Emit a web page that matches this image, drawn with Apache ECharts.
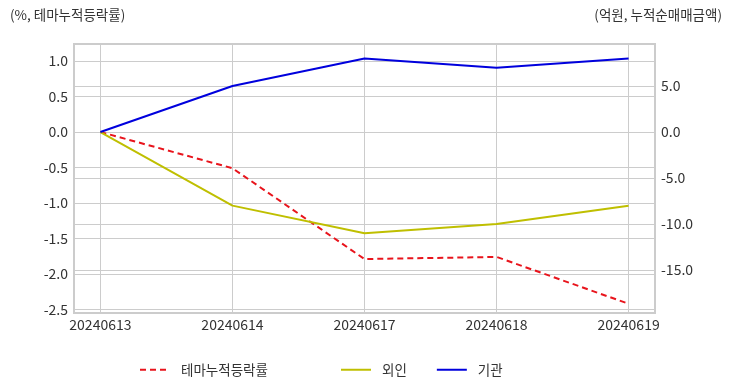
<!DOCTYPE html>
<html><head><meta charset="utf-8">
<script src="https://cdn.jsdelivr.net/npm/echarts@6/dist/echarts.min.js"></script>
<style>html,body{margin:0;padding:0;background:#fff}#c{width:732px;height:392px}</style>
</head><body><div id="c"></div>
<script>
const categories = ['20240613','20240614','20240617','20240618','20240619'];
const themeReturn = [0, -0.51, -1.79, -1.76, -2.42];
const foreign = [0, -8.0, -11.0, -10.0, -8.0];
const institution = [0, 5.0, 8.0, 7.0, 8.0];
const leftTicks = [-2.5, -2.0, -1.5, -1.0, -0.5, 0.0, 0.5, 1.0];
const rightTicks = [-15, -10, -5, 0, 5];

const FONT = '"Noto Sans CJK KR", "Noto Sans", sans-serif';
const chart = echarts.init(document.getElementById('c'));
const pairs = a => a.map((v,i)=>[i,v]);
const isTick = (list,v) => list.some(t=>Math.abs(t-v)<1e-6);
chart.setOption({
  animation:false,
  textStyle:{fontFamily:FONT},
  grid:{left:74,right:77,top:44,bottom:79,show:true,borderColor:'#cccccc',borderWidth:2,containLabel:false},
  graphic:[
    {type:'text',left:10,top:8,style:{text:'(%, 테마누적등락률)',font:'13.5px '+FONT,fill:'#333'}},
    {type:'text',right:10,top:8,style:{text:'(억원, 누적순매매금액)',font:'13.5px '+FONT,fill:'#333'}}
  ],
  legend:[
    {data:['테마누적등락률'],left:134,top:358,itemWidth:26,itemHeight:10,itemGap:20,itemStyle:{opacity:0},
      textStyle:{fontSize:13.5,color:'#333',fontFamily:FONT,padding:[0,0,0,10]}},
    {data:['외인','기관'],left:335,top:358,itemWidth:30,itemHeight:10,itemGap:29,itemStyle:{opacity:0},
      textStyle:{fontSize:13.5,color:'#333',fontFamily:FONT,padding:[0,0,0,6]}}
  ],
  xAxis:{type:'value',min:-0.2,max:4.2,splitNumber:5,
    axisLine:{show:false},axisTick:{show:false},
    splitLine:{show:true,lineStyle:{color:'#cccccc',width:1}},
    axisLabel:{color:'#333',fontSize:14,margin:5,showMinLabel:false,showMaxLabel:false,
      formatter:v=>{const r=Math.round(v);return Math.abs(v-r)<1e-6&&categories[r]?categories[r]:'';}}
  },
  yAxis:[
    {type:'value',min:-2.55,max:1.24,splitNumber:8,
      axisLine:{show:false},axisTick:{show:false},
      splitLine:{show:true,lineStyle:{color:'#cccccc'}},
      axisLabel:{color:'#333',fontSize:14,margin:6,showMinLabel:false,showMaxLabel:false,
        formatter:v=>isTick(leftTicks,v)?v.toFixed(1):''}},
    {type:'value',min:-19.67,max:9.57,splitNumber:6,position:'right',
      axisLine:{show:false},axisTick:{show:false},
      splitLine:{show:true,lineStyle:{color:'#cccccc'}},
      axisLabel:{color:'#333',fontSize:14,margin:6,showMinLabel:false,showMaxLabel:false,
        formatter:v=>isTick(rightTicks,v)?v.toFixed(1):''}}
  ],
  series:[
    {name:'테마누적등락률',type:'line',yAxisIndex:0,data:pairs(themeReturn),symbol:'none',
      lineStyle:{color:'#e8141c',width:2,type:[6,4]},itemStyle:{color:'#e8141c'}},
    {name:'외인',type:'line',yAxisIndex:1,data:pairs(foreign),symbol:'none',
      lineStyle:{color:'#bfbf00',width:2},itemStyle:{color:'#bfbf00'}},
    {name:'기관',type:'line',yAxisIndex:1,data:pairs(institution),symbol:'none',
      lineStyle:{color:'#0000dd',width:2},itemStyle:{color:'#0000dd'}}
  ]
});
</script></body></html>
